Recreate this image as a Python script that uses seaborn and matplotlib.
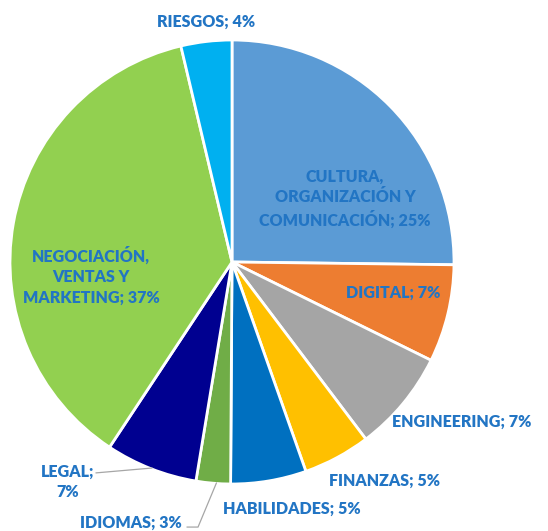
import matplotlib
matplotlib.use("Agg")
from matplotlib import pyplot as plt
import seaborn as sns

categories = ["CULTURA,\nORGANIZACIÓN Y\nCOMUNICACIÓN", "DIGITAL", "ENGINEERING",
              "FINANZAS", "HABILIDADES", "IDIOMAS", "LEGAL",
              "NEGOCIACIÓN,\nVENTAS Y\nMARKETING", "RIESGOS"]
# slice sizes (labels show rounded percentages)
shares = [25.2, 7.1, 7.4, 4.9, 5.5, 2.5, 6.7, 37.0, 3.7]
label_text = ["CULTURA,\nORGANIZACIÓN Y\nCOMUNICACIÓN; 25%", "DIGITAL; 7%",
              "ENGINEERING; 7%", "FINANZAS; 5%", "HABILIDADES; 5%",
              "IDIOMAS; 3%", "LEGAL;\n7%", "NEGOCIACIÓN,\nVENTAS Y\nMARKETING; 37%",
              "RIESGOS; 4%"]
colors = ["#5B9BD5", "#ED7D31", "#A5A5A5", "#FFC000", "#0070C0",
          "#70AD47", "#000090", "#92D050", "#00B0F0"]

# label placement (axes data units, pie radius = 1)
label_pos = [(0.509, 0.285), (0.725, -0.140), (1.036, -0.721), (0.685, -0.987),
             (0.270, -1.113), (-0.455, -1.176), (-0.740, -0.990),
             (-0.635, -0.063), (-0.117, 1.081)]

sns.set_theme(style="white")
plt.rcParams["font.family"] = ["Lato", "DejaVu Sans"]

fig = plt.figure(figsize=(5.48, 5.31), dpi=100)
ax = fig.add_axes([10 / 548, 47 / 531, 444 / 548, 444 / 531])
ax.pie(
    shares,
    colors=colors,
    startangle=90,
    counterclock=False,
    radius=1,
    wedgeprops={"edgecolor": "white", "linewidth": 2},
)
ax.set_xlim(-1, 1)
ax.set_ylim(-1, 1)
ax.set_aspect("equal")
ax.axis("off")

for txt, (x, y) in zip(label_text, label_pos):
    ax.text(x, y, txt, ha="center", va="center", fontsize=11.5,
            fontweight="heavy", color="#2275C4", linespacing=1.35, clip_on=False)

# leader lines
ax.plot([-0.613, -0.360], [-0.950, -0.928], color="#A6A6A6", lw=0.9, clip_on=False)
ax.plot([-0.203, -0.153, -0.070], [-1.194, -1.194, -0.995], color="#A6A6A6",
        lw=0.9, clip_on=False)

fig.savefig("out.png", dpi=100)
